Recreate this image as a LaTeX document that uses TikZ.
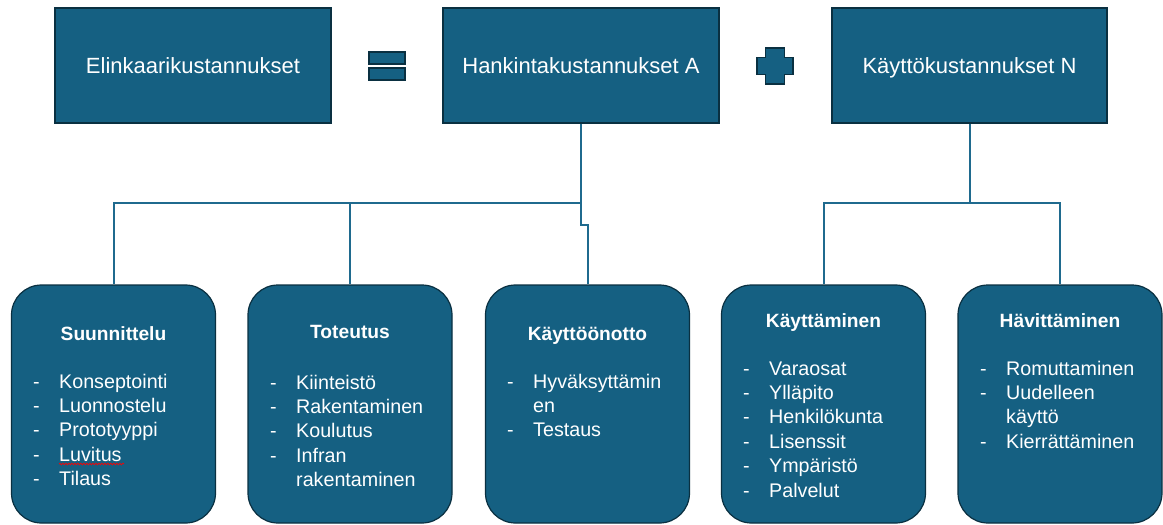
\documentclass[tikz,border=0pt]{standalone}
\usepackage{fontspec}
\setmainfont{Liberation Sans}
\usetikzlibrary{decorations.pathmorphing}
\definecolor{boxfill}{HTML}{156082}
\definecolor{boxline}{HTML}{0A3041}
\definecolor{wire}{HTML}{1F6A8E}
\tikzset{
  topbox/.style={draw=boxline, line width=1.5pt, fill=boxfill, text=white,
    minimum width=276pt, minimum height=115pt, inner sep=0pt,
    font=\fontsize{22}{26}\selectfont, text height=15.5pt, text depth=0pt},
  phase/.style={draw=boxline, line width=1.2pt, fill=boxfill, rounded corners=30pt,
    minimum width=204pt, minimum height=238pt, inner sep=0pt},
  title/.style={text=white, inner sep=0pt, anchor=base,
    font=\fontsize{19.2}{24.4}\selectfont\bfseries},
  items/.style={text=white, inner sep=0pt, anchor=base west,
    font=\fontsize{19.7}{24.4}\selectfont},
  sign/.style={draw=boxline, line width=1.5pt, fill=boxfill},
  conn/.style={draw=wire, line width=2pt}
}
\newcommand{\lst}[1]{\begin{tabular}[t]{@{}p{26pt}@{}l@{}}#1\end{tabular}}
\begin{document}
\begin{tikzpicture}[x=1pt, y=-1pt]
\useasboundingbox (0,0) rectangle (1163,525);

% top row: total = acquisition + operating costs
\node[topbox] (elk)  at (193,65.5)   {Elinkaarikustannukset};
\node[topbox] (hank) at (581,65.5)   {Hankintakustannukset A};
\node[topbox, minimum width=275pt] (kayt) at (969.5,65.5) {Käyttökustannukset N};

% equals sign
\node[sign, minimum width=36pt, minimum height=12pt, inner sep=0pt] (eqa) at (387,58) {};
\node[sign, minimum width=36pt, minimum height=12pt, inner sep=0pt] (eqb) at (387,74) {};

% plus sign
\draw[sign] (765.5,48) -- (784.5,48) -- (784.5,57.5) -- (793,57.5) -- (793,74.5)
  -- (784.5,74.5) -- (784.5,84) -- (765.5,84) -- (765.5,74.5) -- (757,74.5)
  -- (757,57.5) -- (765.5,57.5) -- cycle;

% lifecycle phases
\node[phase] (suun) at (113.5,404) {};
\node[phase] (tot)  at (350,404)   {};
\node[phase] (kott) at (587.5,404) {};
\node[phase] (kmin) at (823.5,404) {};
\node[phase] (hav)  at (1060,404)  {};

% connectors
\coordinate (busA) at (581,203);
\coordinate (jogA) at (581,225);
\coordinate (jogB) at (587.5,225);
\coordinate (busB) at (969.5,203);
\draw[conn] (hank.south) -- (busA) -| (suun.north);
\draw[conn] (tot.north) -- (tot.north |- busA);
\draw[conn] (busA) -- (jogA) -- (jogB) -- (kott.north);
\draw[conn] (kayt.south) -- (busB);
\draw[conn] (kmin.north) |- (busB) -| (hav.north);

% phase titles
\node[title] (t1) at (113.5,340) {Suunnittelu};
\node[title] (t2) at (350,338)   {Toteutus};
\node[title] (t3) at (587.5,340) {Käyttöönotto};
\node[title] (t4) at (823.5,327) {Käyttäminen};
\node[title] (t5) at (1060,327)  {Hävittäminen};

% phase contents
\node[items] (l1) at (33,388) {\lst{-&Konseptointi\\-&Luonnostelu\\-&Prototyyppi\\-&Luvitus\\-&Tilaus}};
\node[items] (l2) at (270,389) {\lst{-&Kiinteistö\\-&Rakentaminen\\-&Koulutus\\-&Infran\\&rakentaminen}};
\node[items] (l3) at (507,388) {\lst{-&Hyväksyttämin\\&en\\-&Testaus}};
\node[items] (l4) at (743,375) {\lst{-&Varaosat\\-&Ylläpito\\-&Henkilökunta\\-&Lisenssit\\-&Ympäristö\\-&Palvelut}};
\node[items] (l5) at (980,375) {\lst{-&Romuttaminen\\-&Uudelleen\\&käyttö\\-&Kierrättäminen}};

% spelling mark under "Luvitus"
\draw[red, line width=0.7pt, decorate, decoration={snake, amplitude=0.8pt, segment length=3pt}]
  (59,464) -- (124,464);
\end{tikzpicture}
\end{document}
